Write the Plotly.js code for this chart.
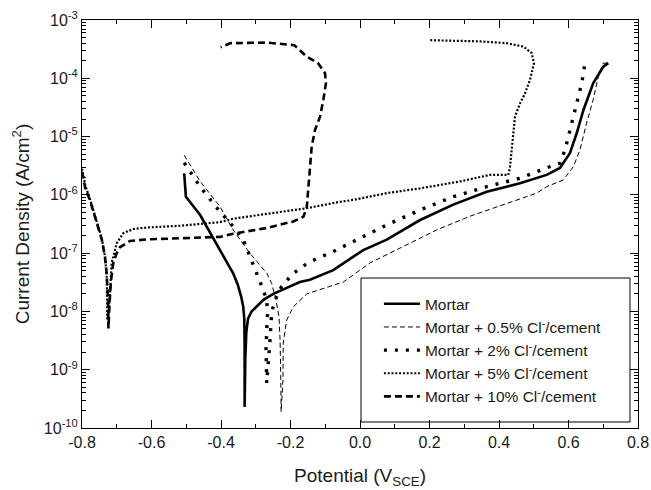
<!DOCTYPE html>
<html>
<head>
<meta charset="utf-8">
<script src="https://cdn.plot.ly/plotly-3.0.1.min.js"></script>
<style>html,body{margin:0;padding:0;background:#fff;}#chart{width:651px;height:490px;}</style>
</head>
<body>
<div id="chart"></div>
<script>
// Potential (V vs SCE) and current density (A/cm^2)
const mortarV = [-0.506,-0.501,-0.460,-0.403,-0.365,-0.352,-0.342,-0.336,-0.333,-0.332,-0.332,-0.330,-0.327,-0.322,-0.312,-0.305,-0.278,-0.2495,-0.211,-0.173,-0.144,-0.077,-0.019,0.0095,0.077,0.173,0.2685,0.3646,0.4604,0.537,0.5755,0.604,0.6236,0.643,0.671,0.700,0.7146];
const mortarI = [2.34e-6,9.3e-7,4.5e-7,1.13e-7,4.5e-8,2.9e-8,1.8e-8,1.2e-8,7.5e-9,2.5e-9,2.3e-10,1.6e-9,4.5e-9,7.6e-9,1.0e-8,1.1e-8,1.58e-8,2.0e-8,2.5e-8,3.2e-8,3.5e-8,5.1e-8,8.7e-8,1.13e-7,1.7e-7,3.7e-7,6.8e-7,1.13e-6,1.58e-6,2.2e-6,2.9e-6,5.2e-6,1.14e-5,2.86e-5,8.2e-5,1.58e-4,1.82e-4];

const cl05V = [-0.506,-0.460,-0.403,-0.365,-0.317,-0.268,-0.254,-0.242,-0.233,-0.230,-0.228,-0.227,-0.2216,-0.221,-0.211,-0.192,-0.153,-0.1056,-0.048,0.0288,0.1246,0.2207,0.3165,0.412,0.5085,0.537,0.585,0.614,0.633,0.652,0.671,0.686,0.700,0.714];
const cl05I = [4.8e-6,1.7e-6,6.3e-7,2.5e-7,1.0e-7,4.5e-8,3.0e-8,1.58e-8,8.1e-9,3.2e-9,7.9e-10,1.9e-10,6.8e-10,2.85e-9,7.1e-9,1.2e-8,2.0e-8,2.5e-8,3.2e-8,6.8e-8,1.29e-7,2.5e-7,4.3e-7,6.8e-7,1.07e-6,1.38e-6,1.8e-6,3.05e-6,5.9e-6,1.7e-5,4.3e-5,1.07e-4,1.82e-4,1.82e-4];

const cl2V = [-0.506,-0.460,-0.417,-0.365,-0.336,-0.312,-0.293,-0.278,-0.2685,-0.266,-0.2685,-0.2705,-0.2685,-0.262,-0.259,-0.254,-0.240,-0.2253,-0.192,-0.158,-0.1246,-0.0863,-0.019,0.077,0.1727,0.2685,0.3646,0.4604,0.537,0.5755,0.590,0.5994,0.614,0.628,0.638,0.6475];
const cl2I = [3.55e-6,1.38e-6,6.5e-7,2.85e-7,1.7e-7,7.6e-8,4.0e-8,2.3e-8,1.58e-8,9.3e-9,4.8e-9,2.2e-9,5.9e-10,1.6e-9,3.2e-9,1.0e-8,1.8e-8,2.7e-8,4.5e-8,6.3e-8,8.1e-8,1.0e-7,1.58e-7,3.05e-7,5.5e-7,9.3e-7,1.38e-6,1.93e-6,2.9e-6,3.5e-6,5.9e-6,1.0e-5,2.2e-5,4.8e-5,8.2e-5,1.82e-4];

const cl5V = [-0.800,-0.790,-0.777,-0.758,-0.743,-0.734,-0.729,-0.727,-0.722,-0.719,-0.7145,-0.700,-0.681,-0.652,-0.614,-0.518,-0.403,-0.365,-0.1534,-0.0576,-0.019,0.077,0.1727,0.2878,0.374,0.4268,0.4317,0.4365,0.4412,0.446,0.4604,0.4748,0.489,0.5007,0.494,0.470,0.422,0.345,0.2014];
const cl5I = [2.8e-6,1.41e-6,8.5e-7,3.55e-7,1.78e-7,8.9e-8,4.0e-8,7.1e-9,1.26e-8,2.3e-8,6.8e-8,1.48e-7,2.2e-7,2.6e-7,2.75e-7,2.95e-7,3.4e-7,3.9e-7,5.9e-7,7.6e-7,8.2e-7,1.07e-6,1.29e-6,1.7e-6,2.2e-6,2.2e-6,3.05e-6,5.9e-6,1.3e-5,2.2e-5,3.7e-5,5.5e-5,9.3e-5,1.8e-4,2.7e-4,3.5e-4,4.0e-4,4.3e-4,4.5e-4];

const cl10V = [-0.800,-0.790,-0.777,-0.758,-0.743,-0.734,-0.729,-0.725,-0.724,-0.721,-0.717,-0.710,-0.700,-0.691,-0.662,-0.614,-0.518,-0.403,-0.365,-0.2685,-0.192,-0.163,-0.1534,-0.149,-0.144,-0.139,-0.1295,-0.115,-0.1056,-0.098,-0.1007,-0.120,-0.1534,-0.189,-0.2685,-0.3358,-0.374,-0.401];
const cl10I = [2.5e-6,1.26e-6,8.1e-7,3.2e-7,1.7e-7,8.7e-8,4.5e-8,1.58e-8,5.1e-9,1.26e-8,3.2e-8,6.8e-8,1.0e-7,1.26e-7,1.62e-7,1.72e-7,1.78e-7,1.9e-7,2.15e-7,2.7e-7,3.5e-7,4.2e-7,5.9e-7,1.21e-6,3.05e-6,6.7e-6,1.3e-5,2.2e-5,4.25e-5,8.2e-5,1.22e-4,1.8e-4,2.35e-4,3.7e-4,4.1e-4,4.1e-4,4.0e-4,3.4e-4];

const seriesNames = ['Mortar','Mortar + 0.5% Cl<sup>-</sup>/cement','Mortar + 2% Cl<sup>-</sup>/cement','Mortar + 5% Cl<sup>-</sup>/cement','Mortar + 10% Cl<sup>-</sup>/cement'];

const xTickVals = [-0.8,-0.6,-0.4,-0.2,0.0,0.2,0.4,0.6,0.8];
const xTickText = ['-0.8','-0.6','-0.4','-0.2','0.0','0.2','0.4','0.6','0.8'];
const yTickVals = [1e-10,1e-9,1e-8,1e-7,1e-6,1e-5,1e-4,1e-3];
const yTickText = ['10<sup>-10</sup>','10<sup>-9</sup>','10<sup>-8</sup>','10<sup>-7</sup>','10<sup>-6</sup>','10<sup>-5</sup>','10<sup>-4</sup>','10<sup>-3</sup>'];

const yMinor = [];
for (let e = -10; e < -3; e++) { for (let m = 2; m <= 9; m++) yMinor.push(m * Math.pow(10, e)); }

const FONT = 'Arial, "Liberation Sans", sans-serif';
const TXT = '#1a1a1a';

const traces = [
  {x: mortarV, y: mortarI, name: seriesNames[0], mode: 'lines', line: {color: '#000', width: 2.6}},
  {x: cl05V, y: cl05I, name: seriesNames[1], mode: 'lines', line: {color: '#000', width: 1, dash: '5px,3px'}},
  {x: cl2V, y: cl2I, name: seriesNames[2], mode: 'lines', line: {color: '#000', width: 3.4, dash: '3px,8px'}},
  {x: cl5V, y: cl5I, name: seriesNames[3], mode: 'lines', line: {color: '#000', width: 2.2, dash: '2px,1.8px'}},
  {x: cl10V, y: cl10I, name: seriesNames[4], mode: 'lines', line: {color: '#000', width: 2.6, dash: '7px,4px'}}
];

const layout = {
  width: 651, height: 490,
  margin: {l: 82, r: 13, t: 20, b: 62},
  paper_bgcolor: '#fff', plot_bgcolor: '#fff',
  font: {family: FONT, color: TXT, size: 16},
  showlegend: true,
  legend: {
    x: 0.534, y: 0.345, xanchor: 'left', yanchor: 'top',
    bgcolor: 'rgba(0,0,0,0)', borderwidth: 0,
    font: {family: FONT, size: 15.5, color: TXT},
    tracegroupgap: 0, itemwidth: 36
  },
  xaxis: {
    range: [-0.8, 0.8], tickmode: 'array', tickvals: xTickVals, ticktext: xTickText,
    ticks: 'inside', ticklen: 8, tickwidth: 1, tickcolor: '#000',
    showline: true, linecolor: '#000', linewidth: 1, mirror: 'allticks',
    showgrid: false, zeroline: false,
    minor: {ticks: 'inside', ticklen: 4, tickwidth: 1, tickcolor: '#000', dtick: 0.1, tick0: 0, showgrid: false},
    tickfont: {family: FONT, size: 16, color: TXT},
    title: {text: 'Potential (V<sub>SCE</sub>)', font: {family: FONT, size: 19, color: TXT}, standoff: 18}
  },
  yaxis: {
    type: 'log', range: [-10, -3], tickmode: 'array', tickvals: yTickVals, ticktext: yTickText,
    ticks: 'inside', ticklen: 8, tickwidth: 1, tickcolor: '#000',
    showline: true, linecolor: '#000', linewidth: 1, mirror: 'allticks',
    showgrid: false, zeroline: false,
    minor: {ticks: 'inside', ticklen: 4, tickwidth: 1, tickcolor: '#000', tickmode: 'array', tickvals: yMinor, showgrid: false},
    tickfont: {family: FONT, size: 16, color: TXT},
    title: {text: 'Current Density (A/cm<sup>2</sup>)', font: {family: FONT, size: 19, color: TXT}, standoff: 9}
  },
  shapes: [{
    type: 'rect', xref: 'paper', yref: 'paper',
    x0: 0.5018, x1: 0.9856, y0: 0.0147, y1: 0.3676,
    line: {color: '#000', width: 1}, fillcolor: 'rgba(0,0,0,0)', layer: 'above'
  }]
};

Plotly.newPlot('chart', traces, layout, {displayModeBar: false, staticPlot: true});
</script>
</body>
</html>
